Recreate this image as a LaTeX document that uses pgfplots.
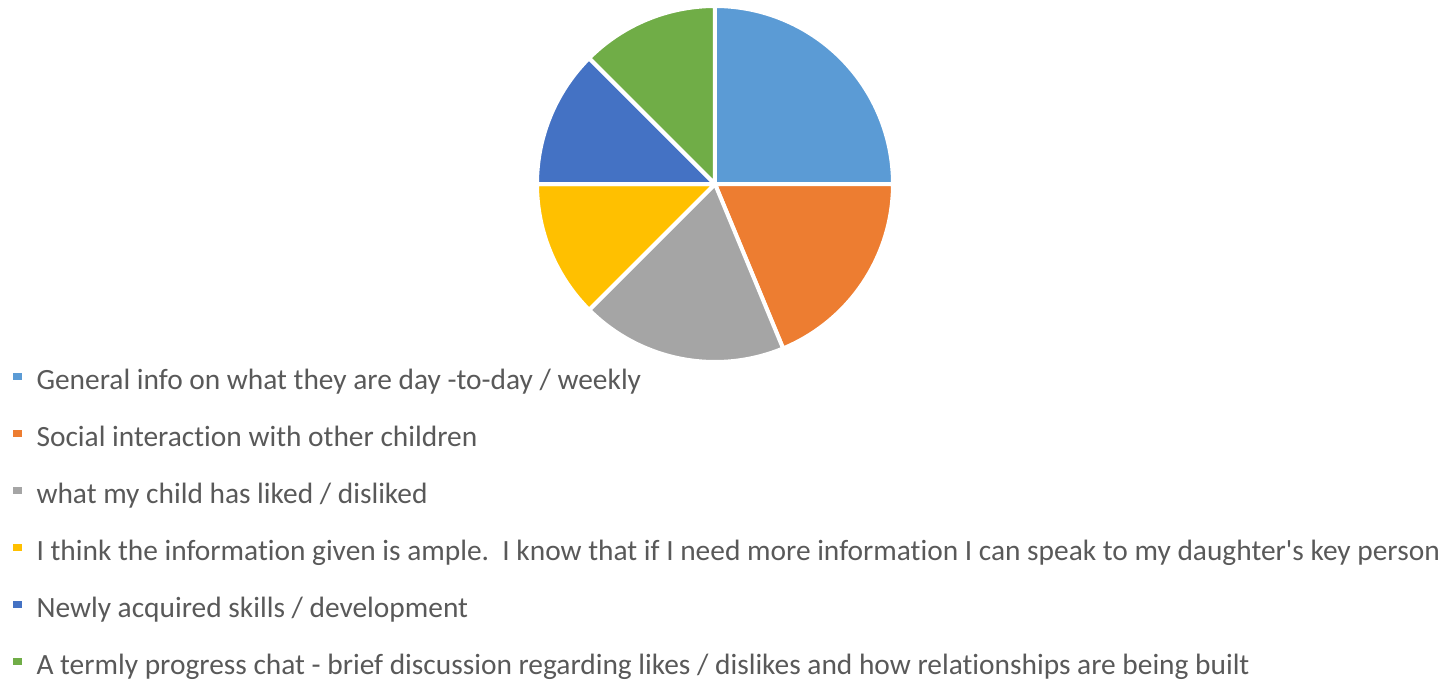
\documentclass[border=0pt]{standalone}
\usepackage{fontspec}
\setmainfont{Carlito}[Ligatures={NoCommon}]
\usepackage{pgfplots}
\usepackage{pgfplotstable}
\pgfplotsset{compat=1.18}

\definecolor{pblue}{HTML}{5B9BD5}
\definecolor{porange}{HTML}{ED7D31}
\definecolor{pgray}{HTML}{A5A5A5}
\definecolor{pyellow}{HTML}{FFC000}
\definecolor{pdblue}{HTML}{4472C4}
\definecolor{pgreen}{HTML}{70AD47}
\definecolor{legtext}{HTML}{595959}

% answers counted per category, clockwise from 12 o'clock
\pgfplotstableread{
value colour
4 pblue
3 porange
3 pgray
2 pyellow
2 pdblue
2 pgreen
}\piedata

\begin{document}
\begin{tikzpicture}
\useasboundingbox (0pt,0pt) rectangle (724pt,341pt);
\pgfplotstablegetrowsof{\piedata}
\pgfmathtruncatemacro\nlast{\pgfplotsretval-1}
\begin{axis}[
  at={(357.5pt,249pt)}, anchor=center,
  scale only axis, width=178pt, height=178pt,
  xmin=-1, xmax=1, ymin=-1, ymax=1,
  hide axis, clip=false,
  legend cell align=left,
  legend image code/.code={%
    \fill[draw=none] (0pt,-0.2pt) rectangle (4.6pt,4.4pt);
    \path (0pt,0pt) -- (11pt,0pt);},
  legend style={at={(-1.48,-0.017)}, anchor=north west,
    draw=none, fill=none, inner sep=0pt, row sep=15pt, column sep=0pt,
    nodes={inner sep=0pt, text height=10.5pt, text depth=3pt,
      font=\fontsize{14.7}{17.6}\selectfont, text=legtext}},
  legend entries={
    {General info on what they are day -to-day / weekly},
    {Social interaction with other children},
    {what my child has liked / disliked},
    {I think the information given is ample.\ \ I know that if I need more information I can speak to my daughter\textquotesingle s key person},
    {Newly acquired skills / development},
    {A termly progress chat - brief discussion regarding likes / dislikes and how relationships are being built}},
]
\pgfmathsetmacro\total{0}
\pgfplotsforeachungrouped \k in {0,...,\nlast}{%
  \pgfplotstablegetelem{\k}{value}\of\piedata
  \pgfmathsetmacro\total{\total+\pgfplotsretval}}
\def\start{90}
\pgfplotsforeachungrouped \k in {0,...,\nlast}{%
  \pgfplotstablegetelem{\k}{value}\of\piedata
  \pgfmathsetmacro\stop{\start-360*\pgfplotsretval/\total}
  \pgfplotstablegetelem{\k}{colour}\of\piedata
  \edef\slice{\noexpand\addplot[fill=\pgfplotsretval, draw=white, line width=2pt,
    domain=\stop:\start, samples=90] ({cos(x)},{sin(x)}) -- (0,0) -- cycle;}
  \slice
  \let\start\stop}
\end{axis}
\end{tikzpicture}
\end{document}
